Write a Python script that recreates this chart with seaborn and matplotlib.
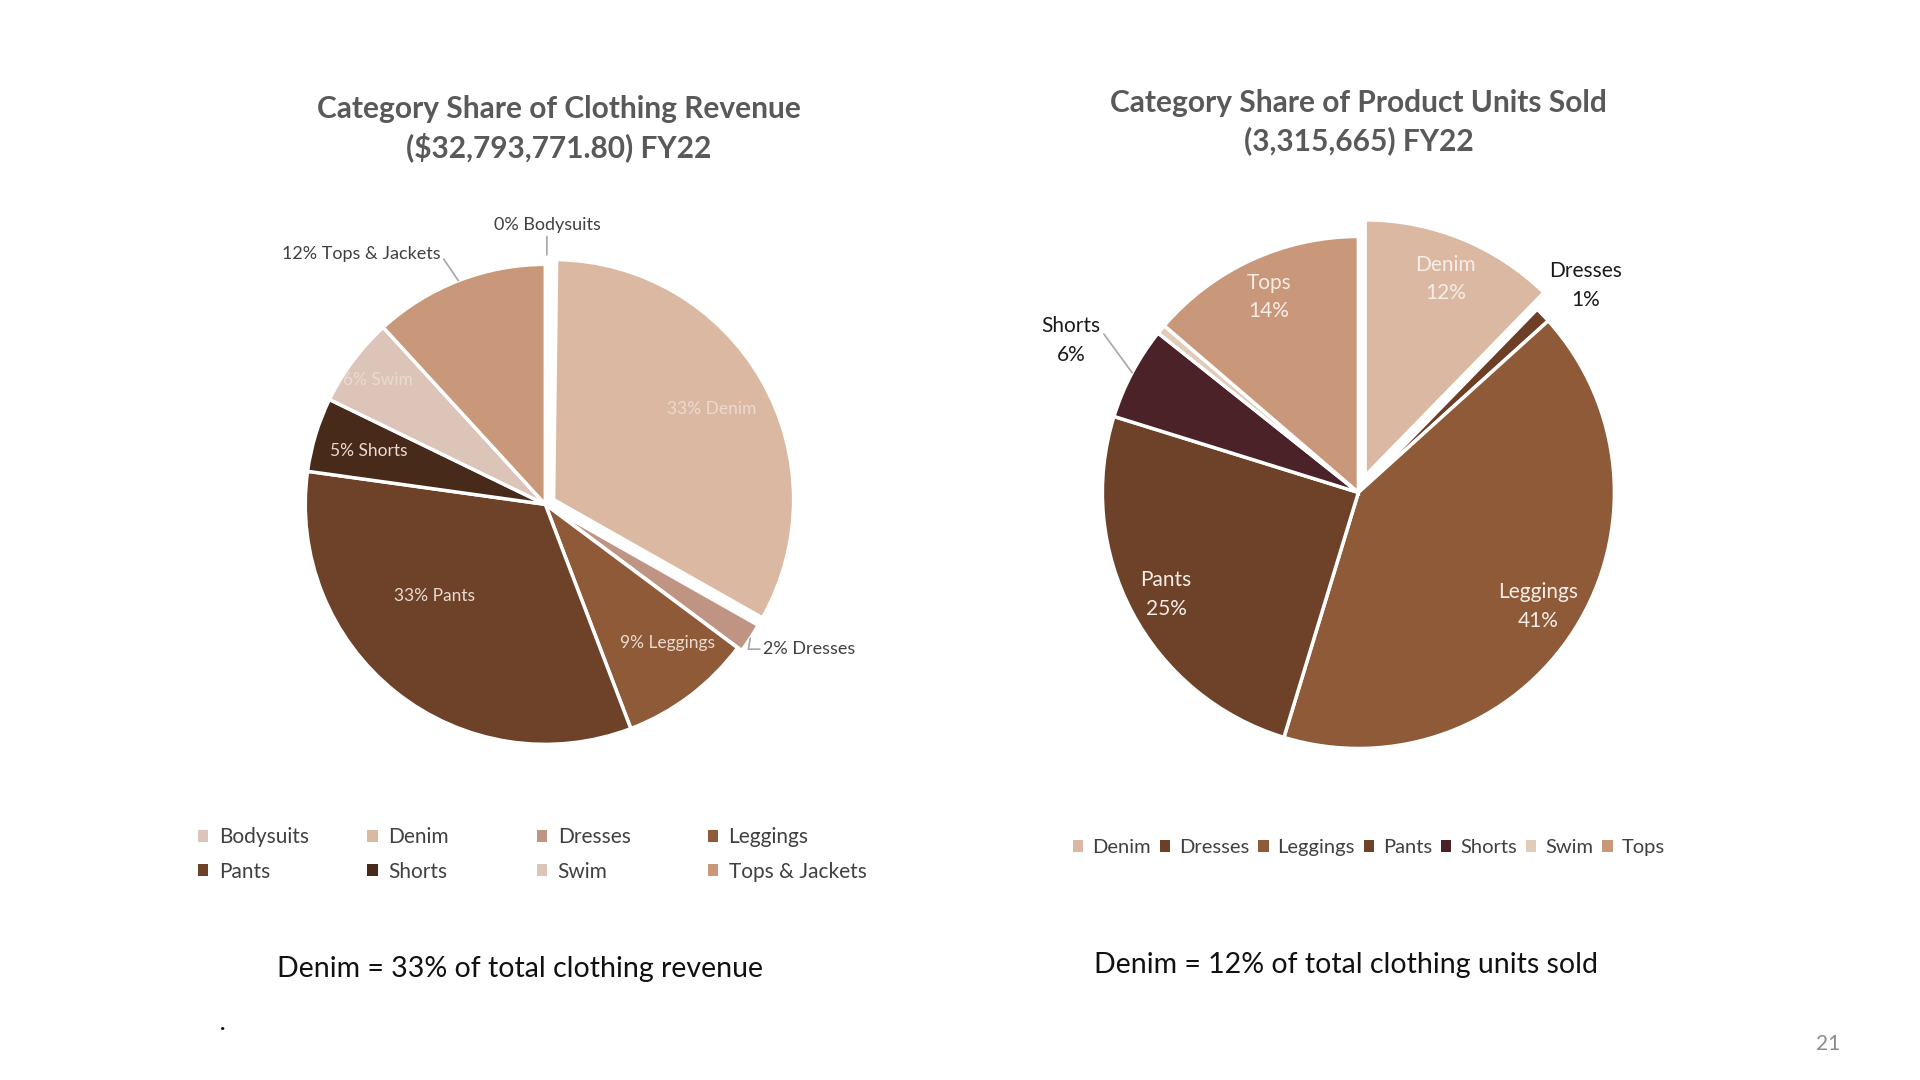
import numpy as np
import matplotlib
matplotlib.use("Agg")
import matplotlib.pyplot as plt
import seaborn as sns

# revenue share by category (left pie)
rev_cats = ["Bodysuits", "Denim", "Dresses", "Leggings", "Pants", "Shorts", "Swim", "Tops & Jackets"]
rev_share = [0.2, 33.0, 2.0, 9.0, 33.0, 5.0, 6.0, 11.8]
rev_colors = ["#d9c5bb", "#dbb8a2", "#bf9482", "#8e5a37", "#6d4228", "#482a1b", "#dcc4b8", "#c9977a"]

# units share by category (right pie)
unit_cats = ["Denim", "Dresses", "Leggings", "Pants", "Shorts", "Swim", "Tops"]
unit_share = [12.3, 1.0, 41.4, 25.1, 5.9, 0.6, 13.7]
unit_colors = ["#dbb8a2", "#6d3f27", "#8e5a37", "#6d4228", "#4a2228", "#e2cbb7", "#c9977a"]

sns.set_theme(style="white")
plt.rcParams["font.family"] = ["Lato", "DejaVu Sans"]

fig = plt.figure(figsize=(19.2, 10.8), dpi=100)
fig.patch.set_facecolor("white")

TITLE_C = "#595959"
INSIDE_L = "#eadbd0"
INSIDE_R = "#f6ede6"
DARK = "#404040"
LEADER = "#a6a6a6"
LEG_C = "#404040"


def polar(center, d, ang):
    a = np.deg2rad(ang)
    return center[0] + d * np.cos(a), center[1] + d * np.sin(a)


def draw_pie(rect, values, colors, explode, lim=1.8):
    ax = fig.add_axes(rect)
    ax.set_facecolor("none")
    wedges, _ = ax.pie(values, colors=colors, startangle=90, counterclock=False,
                       explode=explode, radius=1.0,
                       wedgeprops=dict(edgecolor="white", linewidth=2.5))
    ax.set_xlim(-lim, lim)
    ax.set_ylim(-lim, lim)
    ax.set_aspect("equal")
    ax.axis("off")
    return ax, wedges


# ---------------- left pie: revenue ----------------
axL, wL = draw_pie([0.059, 0.133, 0.45, 0.8], rev_share, rev_colors,
                   [0.05, 0.04, 0.02, 0, 0, 0, 0, 0])

# (label distance, angle nudge) for labels inside the slices
left_style = {
    "Denim": (0.76, 0),
    "Leggings": (0.77, 4.5),
    "Pants": (0.60, -12),
    "Shorts": (0.77, 0),
    "Swim": (0.87, 0),
}
for w, cat, v in zip(wL, rev_cats, rev_share):
    mid = (w.theta1 + w.theta2) / 2
    txt = f"{round(v):.0f}% {cat}"
    if cat in left_style:
        d, nudge = left_style[cat]
        x, y = polar(w.center, d, mid + nudge)
        axL.text(x, y, txt, ha="center", va="center", color=INSIDE_L, fontsize=12.5)
    elif cat == "Bodysuits":
        axL.annotate(txt, xy=polar(w.center, 0.99, mid), xytext=polar(w.center, 1.08, mid),
                     ha="center", va="bottom", color=DARK, fontsize=13,
                     arrowprops=dict(arrowstyle="-", color=LEADER, lw=1.2,
                                     shrinkA=0, shrinkB=0))
    elif cat == "Tops & Jackets":
        axL.annotate(txt, xy=polar(w.center, 1.0, mid), xytext=polar(w.center, 1.13, mid + 1.5),
                     ha="right", va="center", color=DARK, fontsize=13,
                     arrowprops=dict(arrowstyle="-", color=LEADER, lw=1.2,
                                     shrinkA=0, shrinkB=0, relpos=(1, 0.5)))
    elif cat == "Dresses":
        axL.annotate(txt, xy=polar(w.center, 1.0, mid), xytext=polar(w.center, 1.07, mid - 0.5),
                     ha="left", va="center", color=DARK, fontsize=13,
                     arrowprops=dict(arrowstyle="-", color=LEADER, lw=1.2,
                                     shrinkA=0, shrinkB=0, relpos=(0, 0.5),
                                     connectionstyle="angle,angleA=0,angleB=80,rad=0"))

# ---------------- right pie: units ----------------
axR, wR = draw_pie([0.4675, 0.117, 0.480, 0.854], unit_share, unit_colors,
                   [0.07, 0, 0, 0, 0, 0, 0])

right_style = {
    "Denim": 0.83,
    "Tops": 0.84,
    "Leggings": 0.83,
    "Pants": 0.85,
}
for w, cat, v in zip(wR, unit_cats, unit_share):
    mid = (w.theta1 + w.theta2) / 2
    txt = f"{cat}\n{round(v):.0f}%"
    if cat in right_style:
        x, y = polar(w.center, right_style[cat], mid)
        axR.text(x, y, txt, ha="center", va="center", color=INSIDE_R, fontsize=15,
                 linespacing=1.55)
    elif cat == "Dresses":
        x, y = polar(w.center, 1.2, mid - 1.5)
        axR.text(x, y, txt, ha="center", va="center", color="#1a1a1a", fontsize=15,
                 linespacing=1.55)
    elif cat == "Shorts":
        axR.annotate(txt, xy=polar(w.center, 1.0, mid), xytext=polar(w.center, 1.27, mid),
                     ha="center", va="center", color="#1a1a1a", fontsize=15, linespacing=1.55,
                     arrowprops=dict(arrowstyle="-", color=LEADER, lw=1.2,
                                     shrinkA=0, shrinkB=0, relpos=(1, 0.72)))

# ---------------- titles ----------------
fig.text(0.291, 0.881, "Category Share of Clothing Revenue\n($32,793,771.80) FY22",
         ha="center", va="center", fontsize=21.5, fontweight="bold", color=TITLE_C,
         linespacing=1.38)
fig.text(0.7075, 0.887, "Category Share of Product Units Sold\n(3,315,665) FY22",
         ha="center", va="center", fontsize=21.5, fontweight="bold", color=TITLE_C,
         linespacing=1.38)

# ---------------- legends ----------------
# left legend: 2 rows x 4 evenly spaced columns, filled row by row
col_x = [0.1031, 0.1914, 0.2796, 0.3686]
ncols = len(col_x)
for j, x0 in enumerate(col_x):
    idx = list(range(j, len(rev_cats), ncols))
    leg = fig.legend([wL[i] for i in idx], [rev_cats[i] for i in idx],
                     loc="center left", bbox_to_anchor=(x0, 0.209), frameon=False,
                     fontsize=15, handlelength=0.5, handleheight=0.5, handletextpad=0.5,
                     labelspacing=0.7, borderpad=0, borderaxespad=0, labelcolor=LEG_C)
    for h in leg.legend_handles:
        h.set_edgecolor("none")

leg2 = fig.legend(wR, unit_cats, loc="center", bbox_to_anchor=(0.713, 0.2153), ncol=7,
                  frameon=False, fontsize=14.5, handlelength=0.5, handleheight=0.5,
                  handletextpad=0.45, columnspacing=0.45, labelcolor=LEG_C)
for h in leg2.legend_handles:
    h.set_edgecolor("none")

# ---------------- captions ----------------
fig.text(0.2706, 0.103, "Denim = 33% of total clothing revenue", ha="center", va="center",
         fontsize=20.5, color="#111111")
fig.text(0.701, 0.1065, "Denim = 12% of total clothing units sold", ha="center", va="center",
         fontsize=20.5, color="#111111")
fig.text(0.116, 0.052, ".", ha="center", va="center", fontsize=16, color="#111111",
         fontweight="bold")
fig.text(0.9523, 0.0332, "21", ha="center", va="center", fontsize=15, color="#8c8c8c")

fig.savefig("out.png", dpi=100, facecolor="white")
